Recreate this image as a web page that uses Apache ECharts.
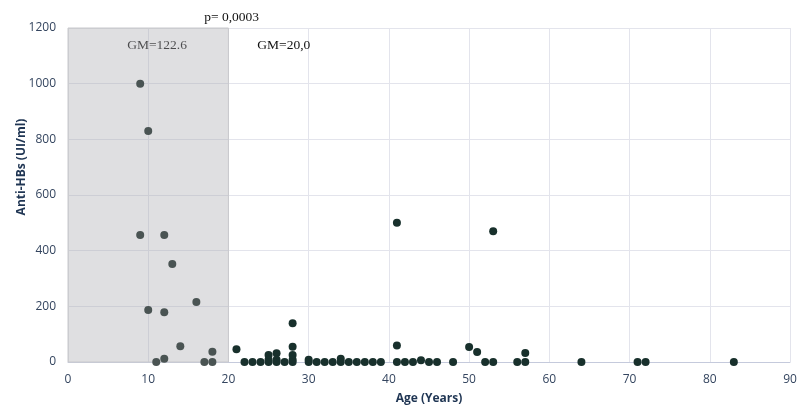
<!DOCTYPE html>
<html>
<head>
<meta charset="utf-8">
<script src="https://cdn.jsdelivr.net/npm/echarts@6/dist/echarts.min.js"></script>
<style>html,body{margin:0;padding:0;background:#fff}#c{width:799px;height:406px}</style>
</head>
<body>
<div id="c"></div>
<script>
// Age < 20 group (shaded area)
const youngAges = [9, 10, 9, 12, 13, 16, 10, 12, 14, 18, 12, 11, 17, 18];
const youngValues = [1000, 830, 456, 456, 352, 216, 187, 179, 57, 37, 12, 0, 0, 0];
// Age >= 20 group
const olderAges = [21, 22, 23, 24, 25, 25, 25, 26, 26, 26, 27, 28, 28, 28, 28, 28,
  30, 30, 31, 32, 33, 34, 34, 35, 36, 37, 38, 39,
  41, 41, 41, 42, 43, 44, 45, 46, 48, 50, 51, 52, 53, 53, 56, 57, 57, 64, 71, 72, 83];
const olderValues = [46, 0, 0, 0, 25, 8, 0, 31, 8, 0, 0, 139, 55, 25, 8, 0,
  8, 0, 0, 0, 0, 12, 0, 0, 0, 0, 0, 0,
  500, 59, 0, 0, 0, 6, 0, 0, 0, 54, 36, 0, 470, 0, 0, 32, 0, 0, 0, 0, 0];
const xTicks = [0, 10, 20, 30, 40, 50, 60, 70, 80, 90];
const yTicks = [0, 200, 400, 600, 800, 1000, 1200];
const shadedRange = [0, 20];
const pText = 'p= 0,0003';
const gmYoung = 'GM=122.6';
const gmOld = 'GM=20,0';

const young = youngAges.map((a, i) => [a, youngValues[i]]);
const older = olderAges.map((a, i) => [a, olderValues[i]]);

const chart = echarts.init(document.getElementById('c'), null, {renderer: 'canvas'});
const labelColor = '#34455f';
const nameColor = '#1f3553';
const option = {
  animation: false,
  backgroundColor: '#fff',
  grid: {left: 68, right: 9, top: 28, bottom: 44, containLabel: false, outerBoundsMode: 'none'},
  xAxis: {
    type: 'value', min: xTicks[0], max: xTicks[xTicks.length - 1], interval: 10,
    name: 'Age (Years)', nameLocation: 'middle', nameGap: 31, nameMoveOverlap: false,
    nameTextStyle: {fontFamily: 'Open Sans', fontWeight: 'bold', fontSize: 12, color: nameColor},
    axisLine: {show: true, lineStyle: {color: '#c5cadc', width: 1}},
    axisTick: {show: false},
    axisLabel: {fontFamily: 'Open Sans', fontSize: 12, color: labelColor, margin: 12, formatter: v => String(v)},
    splitLine: {show: true, lineStyle: {color: '#e3e4ec'}}
  },
  yAxis: {
    type: 'value', min: yTicks[0], max: yTicks[yTicks.length - 1], interval: 200,
    name: 'Anti-HBs (UI/ml)', nameLocation: 'middle', nameGap: 40, nameMoveOverlap: false,
    nameTextStyle: {fontFamily: 'Open Sans', fontWeight: 'bold', fontSize: 12, color: nameColor, padding: [0, 0, 0, 56]},
    axisLine: {show: false},
    axisTick: {show: false},
    axisLabel: {fontFamily: 'Open Sans', fontSize: 12, color: labelColor, margin: 12, formatter: v => String(v)},
    splitLine: {show: true, lineStyle: {color: '#e3e4ec'}}
  },
  series: [
    {
      type: 'scatter', data: young, symbolSize: 8,
      itemStyle: {color: '#4a5453', opacity: 1},
      z: 3,
      markArea: {
        silent: true,
        itemStyle: {color: 'rgba(170,170,175,0.38)', borderColor: '#c9c9cc', borderWidth: 1},
        data: [[{xAxis: shadedRange[0], yAxis: yTicks[yTicks.length - 1]}, {xAxis: shadedRange[1], yAxis: yTicks[0]}]]
      }
    },
    {
      type: 'scatter', data: older, symbolSize: 8,
      itemStyle: {color: '#18302c', opacity: 1},
      z: 3
    }
  ]
};
chart.setOption(option);

function addTexts() {
  const pPt = chart.convertToPixel({gridIndex: 0}, [20.4, 1200]);
  const gy = chart.convertToPixel({gridIndex: 0}, [11.1, 1200]);
  const go = chart.convertToPixel({gridIndex: 0}, [26.9, 1200]);
  const font = {fontFamily: 'Liberation Serif', fontSize: 13.5, fill: '#111'};
  chart.setOption({
    graphic: [
      {type: 'text', x: pPt[0], y: pPt[1] - 11, style: Object.assign({text: pText, align: 'center', verticalAlign: 'middle'}, font)},
      {type: 'text', x: gy[0], y: gy[1] + 17, style: Object.assign({text: gmYoung, align: 'center', verticalAlign: 'middle'}, font)},
      {type: 'text', x: go[0], y: go[1] + 17, style: Object.assign({text: gmOld, align: 'center', verticalAlign: 'middle'}, font)}
    ]
  });
}
addTexts();
</script>
</body>
</html>
